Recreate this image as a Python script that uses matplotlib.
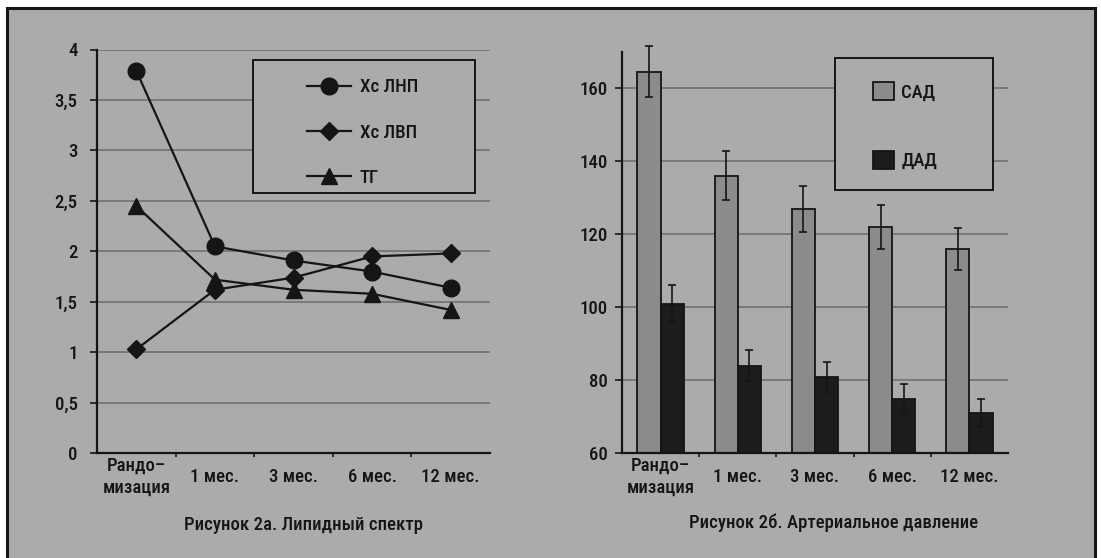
import numpy as np
import matplotlib.pyplot as plt
from matplotlib.patches import Rectangle

plt.rcParams["font.family"] = ["Roboto Condensed", "DejaVu Sans"]
plt.rcParams["font.weight"] = "medium"
plt.rcParams["font.size"] = 13.5

CATEGORIES = ["Рандо–\nмизация", "1 мес.", "3 мес.", "6 мес.", "12 мес."]

# Рисунок 2а: липидный спектр
LDL = [3.79, 2.05, 1.91, 1.80, 1.64]
HDL = [1.03, 1.62, 1.74, 1.95, 1.98]
TG = [2.45, 1.72, 1.62, 1.58, 1.42]
LIPID_TICKS = [0, 0.5, 1, 1.5, 2, 2.5, 3, 3.5, 4]

# Рисунок 2б: артериальное давление
SBP = [164.5, 136, 127, 122, 116]
SBP_ERR = [7, 6.7, 6.3, 6, 5.7]
DBP = [101, 84, 81, 75, 71]
DBP_ERR = [5, 4.3, 4.1, 3.9, 3.8]
BP_TICKS = [60, 80, 100, 120, 140, 160]

BG = "#ababab"
GRID = "#6c6c6c"
INK = "#151515"
FS = 13.5
W, H = 1101, 558


def fx(px):
    return px / W


def fy(py):
    return 1 - py / H


def style_axis(ax, yticks, ylabels, ypad):
    ax.set_facecolor("none")
    ax.set_xlim(-0.5, len(CATEGORIES) - 0.5)
    for side in ["top", "right"]:
        ax.spines[side].set_visible(False)
    for side in ["left", "bottom"]:
        ax.spines[side].set_color(INK)
        ax.spines[side].set_linewidth(1.6)
    ax.set_yticks(yticks)
    ax.set_yticklabels(ylabels)
    ax.yaxis.grid(True, color=GRID, linewidth=1.1)
    ax.set_axisbelow(True)
    ax.tick_params(axis="y", length=5, width=1.2, pad=ypad, colors=INK, labelsize=FS)
    ax.set_xticks(np.arange(len(CATEGORIES)))
    ax.set_xticklabels(CATEGORIES, linespacing=1.25)
    ax.set_xticks(np.arange(len(CATEGORIES) - 1) + 0.5, minor=True)
    ax.tick_params(axis="x", which="major", length=0, pad=17, colors=INK, labelsize=FS)
    ax.tick_params(axis="x", which="minor", length=3, width=1.2, colors=INK)
    for lab in ax.get_xticklabels():
        lab.set_va("center")


def legend_box(ax, x0, y0, x1, y1):
    box = Rectangle((fx(x0), fy(y1)), fx(x1) - fx(x0), fy(y0) - fy(y1),
                    transform=ax.figure.transFigure, facecolor=BG,
                    edgecolor=INK, linewidth=1.4, zorder=1.5, clip_on=False)
    ax.add_artist(box)


fig = plt.figure(figsize=(W / 100, H / 100), dpi=100)
fig.patch.set_facecolor("white")
fig.patches.append(Rectangle((fx(7), -0.02), fx(1095) - fx(7), fy(8) + 0.02,
                             transform=fig.transFigure, facecolor=BG,
                             edgecolor=INK, linewidth=2.2, zorder=-5))

# ---- left panel: lipids ----
ax1 = fig.add_axes([fx(97), fy(453.3), fx(490) - fx(97), fy(49.5) - fy(453.3)])
x = np.arange(len(CATEGORIES))
ax1.plot(x, LDL, color=INK, lw=1.6, marker="o", ms=12, label="Хс ЛНП", zorder=3)
ax1.plot(x, HDL, color=INK, lw=1.6, marker="D", ms=9.5, label="Хс ЛВП", zorder=3)
ax1.plot(x, TG, color=INK, lw=1.6, marker="^", ms=12, label="ТГ", zorder=3)
ax1.set_ylim(0, 4)
style_axis(ax1, LIPID_TICKS, [f"{t:g}".replace(".", ",") for t in LIPID_TICKS], ypad=9)
legend_box(ax1, 253, 60, 475, 193)
ax1.legend(loc="upper left", bbox_to_anchor=(fx(298), fy(69)), bbox_transform=fig.transFigure,
           frameon=False, borderpad=0, handlelength=2.3, handletextpad=0.5,
           labelspacing=1.45, fontsize=FS, labelcolor=INK)

# ---- right panel: blood pressure ----
ax2 = fig.add_axes([fx(622), fy(453.3), fx(1008) - fx(622), fy(51.7) - fy(453.3)])
bw = 0.3
ax2.bar(x - bw / 2, SBP, width=bw, color="#8b8b8b", edgecolor=INK,
        linewidth=1.3, label="САД", zorder=2)
ax2.bar(x + bw / 2, DBP, width=bw, color="#1c1c1c", edgecolor=INK,
        linewidth=1.3, label="ДАД", zorder=2)
ax2.errorbar(x - bw / 2, SBP, yerr=SBP_ERR, fmt="none", ecolor=INK,
             elinewidth=1.2, capsize=3, capthick=1.2, zorder=3, clip_on=False)
ax2.errorbar(x + bw / 2, DBP, yerr=DBP_ERR, fmt="none", ecolor=INK,
             elinewidth=1.2, capsize=3, capthick=1.2, zorder=3, clip_on=False)
ax2.set_ylim(60, 170)
style_axis(ax2, BP_TICKS, [str(t) for t in BP_TICKS], ypad=5)
legend_box(ax2, 835, 58, 993, 190)
ax2.legend(loc="upper left", bbox_to_anchor=(fx(864), fy(73)), bbox_transform=fig.transFigure,
           frameon=False, borderpad=0, handlelength=1.1, handleheight=1.1,
           handletextpad=0.4, labelspacing=2.6, fontsize=FS, labelcolor=INK)

fig.text(fx(303), fy(525), "Рисунок 2а. Липидный спектр", ha="center", va="center",
         fontsize=FS, color=INK)
fig.text(fx(834), fy(523), "Рисунок 2б. Артериальное давление", ha="center", va="center",
         fontsize=FS, color=INK)

fig.savefig("out.png", dpi=100, facecolor=fig.get_facecolor())
